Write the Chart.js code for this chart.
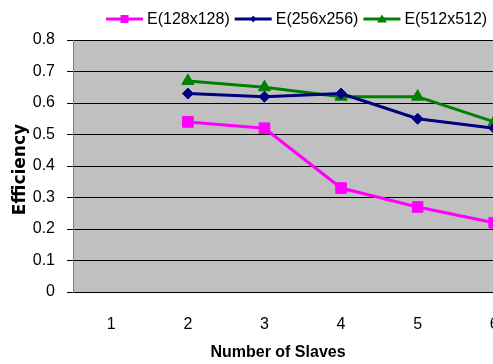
<!DOCTYPE html>
<html>
<head>
<meta charset="utf-8">
<script src="https://cdn.jsdelivr.net/npm/chart.js@4/dist/chart.umd.min.js"></script>
<style>
  html, body { margin: 0; padding: 0; background: #fff; overflow: hidden; }
  #wrap { width: 493px; height: 364px; overflow: hidden; position: relative; }
  canvas { display: block; }
</style>
</head>
<body>
<div id="wrap"><canvas id="c" width="541" height="364"></canvas></div>
<script>
// Efficiency per number of slaves, for three image sizes
const slaves = ['1', '2', '3', '4', '5', '6'];
const eff128 = [null, 0.54, 0.52, 0.33, 0.27, 0.22];
const eff256 = [null, 0.63, 0.62, 0.63, 0.55, 0.52];
const eff512 = [null, 0.67, 0.65, 0.62, 0.62, 0.54];
const seriesNames = ['E(128x128)', 'E(256x256)', 'E(512x512)'];
const yTickLabels = ['0', '0.1', '0.2', '0.3', '0.4', '0.5', '0.6', '0.7', '0.8'];
const xTitle = 'Number of Slaves';
const yTitle = 'Efficiency';

const FONT = '"Liberation Sans", Arial, sans-serif';

// grey plot background
const plotBg = {
  id: 'plotBg',
  beforeDraw(chart) {
    const { ctx, chartArea: a } = chart;
    ctx.save();
    ctx.fillStyle = '#C0C0C0';
    ctx.fillRect(a.left, a.top, a.right - a.left, a.bottom - a.top);
    ctx.restore();
  }
};

function drawMarker(ctx, style, x, y, r, color) {
  ctx.save();
  ctx.fillStyle = color;
  ctx.beginPath();
  if (style === 'rect') {
    ctx.rect(x - r, y - r, 2 * r, 2 * r);
  } else if (style === 'rectRot') {
    ctx.moveTo(x, y - r); ctx.lineTo(x + r * 0.85, y); ctx.lineTo(x, y + r); ctx.lineTo(x - r * 0.85, y);
    ctx.closePath();
  } else if (style === 'triangle') {
    ctx.moveTo(x, y - r); ctx.lineTo(x + r * 1.1, y + r * 0.8); ctx.lineTo(x - r * 1.1, y + r * 0.8);
    ctx.closePath();
  }
  ctx.fill();
  ctx.restore();
}

// legend with line + marker samples, and the two axis titles
const decorations = {
  id: 'decorations',
  afterDraw(chart) {
    const { ctx } = chart;
    ctx.save();
    ctx.font = '16px ' + FONT;
    ctx.textBaseline = 'middle';
    ctx.textAlign = 'left';
    let x = 106;
    const y = 19;
    const markerR = { rect: 4, rectRot: 3.5, triangle: 4.5 };
    chart.data.datasets.forEach(ds => {
      ctx.strokeStyle = ds.borderColor;
      ctx.lineWidth = 3;
      ctx.beginPath();
      ctx.moveTo(x, y); ctx.lineTo(x + 37, y);
      ctx.stroke();
      drawMarker(ctx, ds.pointStyle, x + 18.5, y, markerR[ds.pointStyle], ds.borderColor);
      ctx.fillStyle = '#000';
      ctx.fillText(ds.label, x + 41, y + 1);
      x += 41 + ctx.measureText(ds.label).width + 5;
    });

    ctx.font = 'bold 16px ' + FONT;
    ctx.textAlign = 'center';
    ctx.fillText(xTitle, 278, 353);

    ctx.translate(21, 169.5);
    ctx.rotate(-Math.PI / 2);
    ctx.font = 'bold 17px "DejaVu Sans", sans-serif';
    ctx.fillText(yTitle, 0, 0);
    ctx.restore();
  }
};

new Chart(document.getElementById('c'), {
  type: 'line',
  data: {
    labels: slaves,
    datasets: [
      { label: seriesNames[0], data: eff128, borderColor: '#FF00FF', backgroundColor: '#FF00FF',
        pointStyle: 'rect', pointRadius: 7.5, pointBorderWidth: 1 },
      { label: seriesNames[1], data: eff256, borderColor: '#000080', backgroundColor: '#000080',
        pointStyle: 'rectRot', pointRadius: 5.5, pointBorderWidth: 1 },
      { label: seriesNames[2], data: eff512, borderColor: '#008000', backgroundColor: '#008000',
        pointStyle: 'triangle', pointRadius: 7, pointBorderWidth: 1 }
    ].map(d => Object.assign({ borderWidth: 3, tension: 0, pointHoverRadius: d.pointRadius }, d))
  },
  options: {
    responsive: false,
    animation: false,
    devicePixelRatio: 1,
    layout: { padding: { top: 40, left: 0, right: 0, bottom: 0 } },
    plugins: { legend: { display: false }, tooltip: { enabled: false } },
    scales: {
      x: {
        type: 'category',
        offset: true,
        grid: { display: false, drawTicks: false },
        border: { display: true, color: '#000', width: 1 },
        ticks: { color: '#000', font: { family: FONT, size: 16 }, padding: 23, maxRotation: 0 },
        afterFit(scale) { scale.height = 72; }
      },
      y: {
        min: 0, max: 0.8,
        ticks: {
          stepSize: 0.1, color: '#000', padding: 12,
          font: { family: FONT, size: 16 },
          callback: (v, i) => yTickLabels[i]
        },
        grid: { color: '#000', lineWidth: 1, tickLength: 6, tickColor: '#000' },
        border: { display: true, color: '#808080', width: 1 },
        afterFit(scale) { scale.width = 73; }
      }
    }
  },
  plugins: [plotBg, decorations]
});
</script>
</body>
</html>
